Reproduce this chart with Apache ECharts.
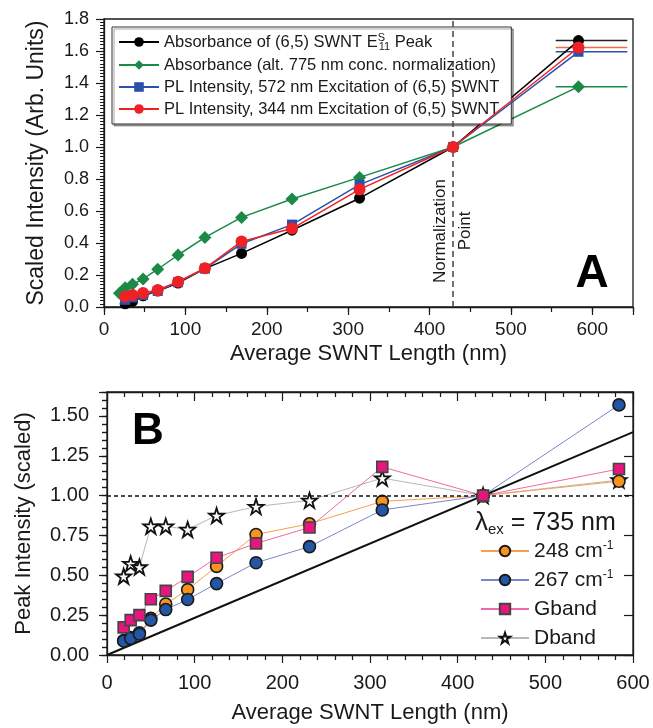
<!DOCTYPE html>
<html><head><meta charset="utf-8">
<script src="https://cdn.jsdelivr.net/npm/echarts@6/dist/echarts.min.js"></script>
<style>html,body{margin:0;padding:0;background:#fff}#c{width:653px;height:728px}</style>
</head><body><div id="c"></div>
<script>
// ---------- Panel A data ----------
const lenA = [19, 26, 35, 48, 66, 91, 124, 169, 231, 314, 429, 583];
const absPeak = [null, 0.02, 0.035, 0.07, 0.10, 0.15, 0.24, 0.335, 0.48, 0.68, 1.0, 1.665];
const absAlt = [0.086, 0.12, 0.142, 0.175, 0.236, 0.325, 0.435, 0.56, 0.675, 0.81, 1.0, 1.377];
const pl572 = [null, 0.045, 0.06, 0.075, 0.10, 0.155, 0.24, 0.395, 0.515, 0.765, 1.0, 1.595];
const pl344 = [null, 0.065, 0.075, 0.088, 0.106, 0.158, 0.242, 0.41, 0.49, 0.735, 1.0, 1.622];
const errRangeA = [555, 643];          // horizontal bar extent at the longest fraction
const normLen = 429;                   // normalization point (nm)
const namesA = ['Absorbance of (6,5) SWNT E11 Peak', 'Absorbance (alt. 775 nm conc. normalization)',
  'PL Intensity, 572 nm Excitation of (6,5) SWNT', 'PL Intensity, 344 nm Excitation of (6,5) SWNT'];
const yTicksA = [0, 1.8, 0.2];
const xTicksA = [0, 650, 100];

// ---------- Panel B data ----------
const lenB = [19, 27, 37, 50, 67, 92, 125, 170, 231, 314, 429, 584];
const band248 = [0.09, 0.11, 0.14, 0.23, 0.32, 0.41, 0.556, 0.756, 0.823, 0.964, 1.0, 1.09];
const band267 = [0.0875, 0.104, 0.131, 0.219, 0.285, 0.348, 0.448, 0.579, 0.68, 0.91, 1.0, 1.569];
const gband = [0.173, 0.219, 0.25, 0.35, 0.402, 0.49, 0.61, 0.70, 0.80, 1.18, 1.0, 1.167];
const dband = [0.494, 0.573, 0.552, 0.808, 0.808, 0.7875, 0.875, 0.931, 0.97, 1.11, 1.0, 1.098];
const refLineX = [0, 600];
const namesB = ['248 cm-1', '267 cm-1', 'Gband', 'Dband'];
const yTicksB = [0, 1.65, 0.25];
const xTicksB = [0, 600, 100];

const FONT = '"Liberation Sans", Arial, Helvetica, sans-serif';
const INK = '#1a1a1a';
const pairs = (xs, ys) => xs.map((x, i) => [x, ys[i]]);
const starPath = 'path://M50,2 L61.8,37.6 L99,37.6 L68.9,59.5 L80.4,95 L50,73 L19.6,95 L31.1,59.5 L1,37.6 L38.2,37.6 Z';
const isMult = (v, step) => Math.abs(v / step - Math.round(v / step)) < 1e-6;

const chart = echarts.init(document.getElementById('c'));

const axLine = { show: true, onZero: false, lineStyle: { color: INK, width: 1.3 } };
const tickStyle = { color: INK, width: 1.2 };

const option = {
  animation: false,
  backgroundColor: '#fff',
  textStyle: { fontFamily: FONT },
  grid: [
    { left: 104, top: 19, width: 529, height: 288, show: true, borderColor: INK, borderWidth: 1.3, backgroundColor: 'transparent' },
    { left: 107, top: 392, width: 526, height: 263, show: true, borderColor: INK, borderWidth: 1.3, backgroundColor: 'transparent' }
  ],
  xAxis: [
    { gridIndex: 0, type: 'value', position: 'bottom', min: xTicksA[0], max: xTicksA[1], interval: xTicksA[2],
      axisLine: axLine, axisTick: { show: true, inside: false, length: 8, lineStyle: tickStyle },
      splitLine: { show: false },
      axisLabel: { fontSize: 19, color: INK, margin: 13, fontFamily: FONT, formatter: v => isMult(v, 100) ? String(v) : '' },
      name: 'Average SWNT Length (nm)', nameLocation: 'middle', nameGap: 36,
      nameTextStyle: { fontSize: 22, color: INK, fontFamily: FONT } },
    { gridIndex: 0, type: 'value', position: 'bottom', min: xTicksA[0], max: xTicksA[1], interval: 50,
      axisLine: { show: false }, axisTick: { show: true, inside: false, length: 5, lineStyle: tickStyle },
      splitLine: { show: false }, axisLabel: { show: false } },
    { gridIndex: 1, type: 'value', position: 'bottom', min: xTicksB[0], max: xTicksB[1], interval: xTicksB[2],
      axisLine: axLine, axisTick: { show: true, inside: false, length: 8, lineStyle: tickStyle },
      minorTick: { show: true, splitNumber: 5, length: 5, lineStyle: tickStyle },
      splitLine: { show: false },
      axisLabel: { fontSize: 20, color: INK, margin: 18, fontFamily: FONT },
      name: 'Average SWNT Length (nm)', nameLocation: 'middle', nameGap: 47,
      nameTextStyle: { fontSize: 22, color: INK, fontFamily: FONT } },
    { gridIndex: 1, type: 'value', position: 'top', min: xTicksB[0], max: xTicksB[1], interval: xTicksB[2],
      axisLine: axLine, axisTick: { show: true, inside: true, length: 9, lineStyle: tickStyle },
      minorTick: { show: true, splitNumber: 5, length: 5, lineStyle: tickStyle },
      splitLine: { show: false }, axisLabel: { show: false } }
  ],
  yAxis: [
    { gridIndex: 0, type: 'value', position: 'left', min: yTicksA[0], max: yTicksA[1], interval: yTicksA[2],
      axisLine: axLine, axisTick: { show: true, inside: false, length: 8, lineStyle: tickStyle },
      minorTick: { show: true, splitNumber: 10, length: 4, lineStyle: { color: INK, width: 1 } },
      splitLine: { show: false },
      axisLabel: { fontSize: 18, color: INK, margin: 15, fontFamily: FONT, formatter: v => v.toFixed(1) },
      name: 'Scaled Intensity (Arb. Units)', nameLocation: 'middle', nameGap: 56,
      nameTextStyle: { fontSize: 23, color: INK, fontFamily: FONT } },
    { gridIndex: 1, type: 'value', position: 'left', min: yTicksB[0], max: yTicksB[1], interval: yTicksB[2],
      axisLine: axLine, axisTick: { show: true, inside: false, length: 8, lineStyle: tickStyle },
      splitLine: { show: false },
      axisLabel: { fontSize: 20, color: INK, margin: 18, fontFamily: FONT, formatter: v => isMult(v, 0.25) ? v.toFixed(2) : '' },
      name: 'Peak Intensity (scaled)', nameLocation: 'middle', nameGap: 72,
      nameTextStyle: { fontSize: 22, color: INK, fontFamily: FONT } },
    { gridIndex: 1, type: 'value', position: 'left', min: yTicksB[0], max: yTicksB[1], interval: 0.05,
      axisLine: { show: false }, axisTick: { show: true, inside: false, length: 5, lineStyle: tickStyle },
      splitLine: { show: false }, axisLabel: { show: false } },
    { gridIndex: 1, type: 'value', position: 'right', min: yTicksB[0], max: yTicksB[1], interval: yTicksB[2],
      axisLine: axLine, axisTick: { show: true, inside: true, length: 9, lineStyle: tickStyle },
      splitLine: { show: false }, axisLabel: { show: false } },
    { gridIndex: 1, type: 'value', position: 'right', min: yTicksB[0], max: yTicksB[1], interval: 0.05,
      axisLine: { show: false }, axisTick: { show: true, inside: true, length: 5, lineStyle: tickStyle },
      splitLine: { show: false }, axisLabel: { show: false } }
  ],
  legend: [
    { data: namesA, orient: 'vertical', left: 112, top: 27, itemWidth: 40, itemHeight: 12, itemGap: 4,
      padding: [5, 12, 6, 6], backgroundColor: '#fff', borderColor: '#333', borderWidth: 1,
      shadowColor: 'rgba(0,0,0,0.35)', shadowOffsetX: 2, shadowOffsetY: 2, shadowBlur: 0,
      textStyle: { fontSize: 16.5, color: INK, fontFamily: FONT, lineHeight: 18,
        rich: { sup: { fontSize: 11, width: 1, padding: [0, 0, 9, 0], fontFamily: FONT, color: INK },
                sub: { fontSize: 11, padding: [9, 0, 0, 0], fontFamily: FONT, color: INK } } },
      formatter: n => n === namesA[0] ? 'Absorbance of (6,5) SWNT E{sup|S}{sub|11} Peak' : n },
    { data: namesB, orient: 'vertical', left: 480, top: 540, itemWidth: 48, itemHeight: 13, itemGap: 7,
      padding: 0,
      textStyle: { fontSize: 21, color: INK, fontFamily: FONT, lineHeight: 22,
        rich: { sup: { fontSize: 12, padding: [0, 0, 10, 0], fontFamily: FONT, color: INK } } },
      formatter: n => n.replace(' cm-1', ' cm{sup|-1}') }
  ],
  series: [
    // ---- Panel A ----
    { name: namesA[0], type: 'line', xAxisIndex: 0, yAxisIndex: 0, data: pairs(lenA, absPeak),
      symbol: 'circle', symbolSize: 11, color: '#000', lineStyle: { width: 1.5, color: '#000' }, z: 3 },
    { name: namesA[1], type: 'line', xAxisIndex: 0, yAxisIndex: 0, data: pairs(lenA, absAlt),
      symbol: 'diamond', symbolSize: 13, color: '#1b8a46', lineStyle: { width: 1.5, color: '#1b8a46' }, z: 3,
      markLine: { silent: true, symbol: 'none', label: { show: false },
        lineStyle: { color: '#444', type: [6, 4], width: 1.5 },
        data: [[{ coord: [normLen, yTicksA[0]] }, { coord: [normLen, yTicksA[1]] }]] } },
    { name: namesA[2], type: 'line', xAxisIndex: 0, yAxisIndex: 0, data: pairs(lenA, pl572),
      symbol: 'rect', symbolSize: 10, color: '#2a52a8', lineStyle: { width: 1.5, color: '#2a52a8' }, z: 4 },
    { name: namesA[3], type: 'line', xAxisIndex: 0, yAxisIndex: 0, data: pairs(lenA, pl344),
      symbol: 'circle', symbolSize: 12, color: '#ee2127', lineStyle: { width: 1.5, color: '#ee2127' }, z: 5 },
    // horizontal bars at the longest fraction
    { type: 'line', xAxisIndex: 0, yAxisIndex: 0, symbol: 'none', silent: true, z: 2,
      data: errRangeA.map(x => [x, absPeak[absPeak.length - 1]]), lineStyle: { color: '#222', width: 1.5 } },
    { type: 'line', xAxisIndex: 0, yAxisIndex: 0, symbol: 'none', silent: true, z: 2,
      data: errRangeA.map(x => [x, absAlt[absAlt.length - 1]]), lineStyle: { color: '#1b8a46', width: 1.5 } },
    { type: 'line', xAxisIndex: 0, yAxisIndex: 0, symbol: 'none', silent: true, z: 2,
      data: errRangeA.map(x => [x, pl572[pl572.length - 1]]), lineStyle: { color: '#2a52a8', width: 1.5 } },
    { type: 'line', xAxisIndex: 0, yAxisIndex: 0, symbol: 'none', silent: true, z: 2,
      data: errRangeA.map(x => [x, pl344[pl344.length - 1]]), lineStyle: { color: '#f26a4a', width: 1.5 } },
    // ---- Panel B ----
    { type: 'line', xAxisIndex: 2, yAxisIndex: 1, symbol: 'none', silent: true, z: 1,
      data: refLineX.map(x => [x, x / normLen]), lineStyle: { color: '#111', width: 2 },
      markLine: { silent: true, symbol: 'none', label: { show: false },
        lineStyle: { color: '#111', type: [4, 3], width: 1.6 }, data: [{ yAxis: 1 }] } },
    { name: namesB[3], type: 'line', xAxisIndex: 2, yAxisIndex: 1, data: pairs(lenB, dband),
      symbol: starPath, symbolSize: 15, color: '#fff',
      itemStyle: { color: '#fff', borderColor: '#111', borderWidth: 1.8 },
      lineStyle: { color: '#b8b8b8', width: 1 }, z: 3 },
    { name: namesB[0], type: 'line', xAxisIndex: 2, yAxisIndex: 1, data: pairs(lenB, band248),
      symbol: 'circle', symbolSize: 12, color: '#f7931e',
      itemStyle: { color: '#f7931e', borderColor: '#1a1a1a', borderWidth: 1.6 },
      lineStyle: { color: '#f7a04a', width: 1 }, z: 4 },
    { name: namesB[1], type: 'line', xAxisIndex: 2, yAxisIndex: 1, data: pairs(lenB, band267),
      symbol: 'circle', symbolSize: 12, color: '#2456a6',
      itemStyle: { color: '#2456a6', borderColor: '#1a1a1a', borderWidth: 1.6 },
      lineStyle: { color: '#7a86cc', width: 1 }, z: 5 },
    { name: namesB[2], type: 'line', xAxisIndex: 2, yAxisIndex: 1, data: pairs(lenB, gband),
      symbol: 'rect', symbolSize: 11, color: '#e5177f',
      itemStyle: { color: '#e5177f', borderColor: '#444', borderWidth: 1.6 },
      lineStyle: { color: '#ef6aa6', width: 1 }, z: 6 }
  ]
};
chart.setOption(option);

const normPix = chart.convertToPixel({ xAxisIndex: 0, yAxisIndex: 0 }, [normLen, 0.475]);
chart.setOption({
  graphic: [
    { type: 'text', x: normPix[0], y: normPix[1], rotation: Math.PI / 2, z: 10,
      style: { text: 'Normalization\nPoint', fontSize: 17, lineHeight: 25, fill: INK, fontFamily: FONT,
               align: 'center', verticalAlign: 'middle' } },
    { type: 'text', x: 592, y: 274, z: 10,
      style: { text: 'A', fontSize: 46, fontWeight: 'bold', fill: '#000', fontFamily: FONT, align: 'center', verticalAlign: 'middle' } },
    { type: 'text', x: 148, y: 432, z: 10,
      style: { text: 'B', fontSize: 44, fontWeight: 'bold', fill: '#000', fontFamily: FONT, align: 'center', verticalAlign: 'middle' } },
    { type: 'text', x: 475, y: 523, z: 10,
      style: { text: '{l|λ}{s|ex}{t| = 735 nm}', align: 'left', verticalAlign: 'middle', fontFamily: FONT,
        rich: { l: { fontSize: 26, fill: INK, fontFamily: FONT },
                s: { fontSize: 15, padding: [13, 0, 0, 0], fill: INK, fontFamily: FONT },
                t: { fontSize: 25, fill: INK, fontFamily: FONT } } } }
  ]
});
</script>
</body></html>
